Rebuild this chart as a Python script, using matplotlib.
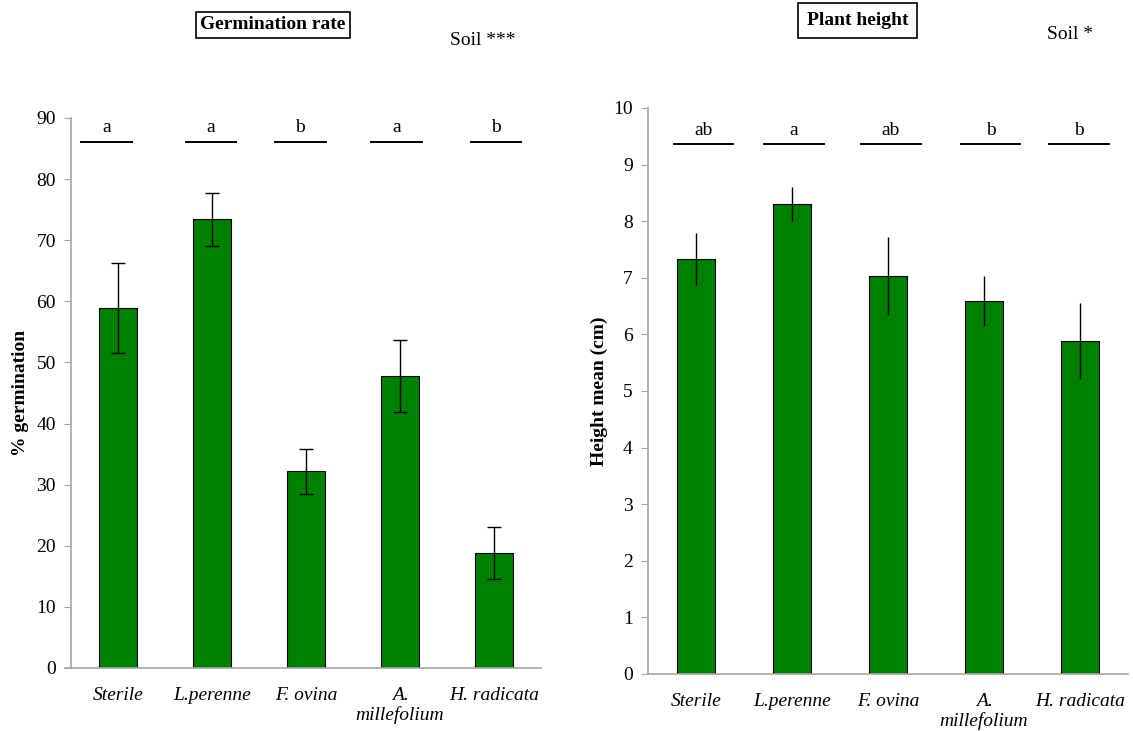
import matplotlib.pyplot as plt
import numpy as np

plt.rcParams['font.family'] = ['Liberation Serif', 'DejaVu Serif']

species = ["Sterile", "L.perenne", "F. ovina", "A.\nmillefolium", "H. radicata"]

# germination (%)
germ_mean = [58.9, 73.4, 32.2, 47.8, 18.8]
germ_err = [7.4, 4.4, 3.7, 5.9, 4.2]
germ_letters = ["a", "a", "b", "a", "b"]

# plant height (cm)
height_mean = [7.33, 8.30, 7.03, 6.59, 5.88]
height_err = [0.46, 0.30, 0.69, 0.44, 0.67]
height_letters = ["ab", "a", "ab", "b", "b"]

green = "#008000"
grey = "#a6a6a6"
fs = 14

fig = plt.figure(figsize=(11.33, 7.31), dpi=100)
ax1 = fig.add_axes([0.0627, 0.0862, 0.4148, 0.7524])
ax2 = fig.add_axes([0.5719, 0.0780, 0.4237, 0.7743])


def style_axis(ax, ymax, step):
    x = np.arange(len(species))
    ax.set_xlim(-0.5, len(species) - 0.5)
    ax.set_ylim(0, ymax)
    ax.set_yticks(np.arange(0, ymax + step / 2, step))
    ax.set_xticks(x)
    ax.set_xticklabels(species, style="italic", fontsize=fs, linespacing=1.1)
    ax.tick_params(axis="x", length=0, pad=14)
    ax.tick_params(axis="y", length=5, color=grey, labelsize=fs, pad=6)
    for s in ["top", "right"]:
        ax.spines[s].set_visible(False)
    for s in ["left", "bottom"]:
        ax.spines[s].set_color(grey)
        ax.spines[s].set_linewidth(1.2)


# left panel: germination rate
x = np.arange(len(species))
ax1.bar(x, germ_mean, width=0.4, color=green, edgecolor="black", linewidth=0.8)
ax1.errorbar(x, germ_mean, yerr=germ_err, fmt="none", ecolor="black",
             elinewidth=1, capsize=5, capthick=1)
style_axis(ax1, 90, 10)
ax1.set_ylabel("% germination", fontweight="bold", fontsize=fs, labelpad=5)
ax1.spines["bottom"].set_bounds(-0.565, 4.5)
line_off1 = [-0.12, -0.01, -0.06, -0.04, 0.02]
for i, lab in enumerate(germ_letters):
    c = i + line_off1[i]
    ax1.plot([c - 0.27, c + 0.27], [86, 86], color="black", lw=1.4)
    ax1.text(c, 87.0, lab, ha="center", va="bottom", fontsize=fs)
fig.text(0.241, 0.966, "Germination rate", ha="center", va="center",
         fontweight="bold", fontsize=fs,
         bbox=dict(boxstyle="square,pad=0.22", fc="white", ec="black", lw=1.2))
fig.text(0.426, 0.945, "Soil ***", ha="center", va="center", fontsize=fs)

# right panel: plant height (no caps)
ax2.bar(x, height_mean, width=0.4, color=green, edgecolor="black", linewidth=0.8)
ax2.errorbar(x, height_mean, yerr=height_err, fmt="none", ecolor="black",
             elinewidth=1, capsize=0)
style_axis(ax2, 10, 1)
ax2.set_ylabel("Height mean (cm)", fontweight="bold", fontsize=fs, labelpad=4)
line_off2 = [0.08, 0.02, 0.03, 0.07, -0.01]
for i, lab in enumerate(height_letters):
    c = i + line_off2[i]
    ax2.plot([c - 0.31, c + 0.31], [9.36, 9.36], color="black", lw=1.4)
    ax2.text(c, 9.45, lab, ha="center", va="bottom", fontsize=fs)
fig.text(0.757, 0.972, "Plant height", ha="center", va="center",
         fontweight="bold", fontsize=fs,
         bbox=dict(boxstyle="square,pad=0.45", fc="white", ec="black", lw=1.2))
fig.text(0.944, 0.953, "Soil *", ha="center", va="center", fontsize=fs)

fig.savefig("out.png", dpi=100)
